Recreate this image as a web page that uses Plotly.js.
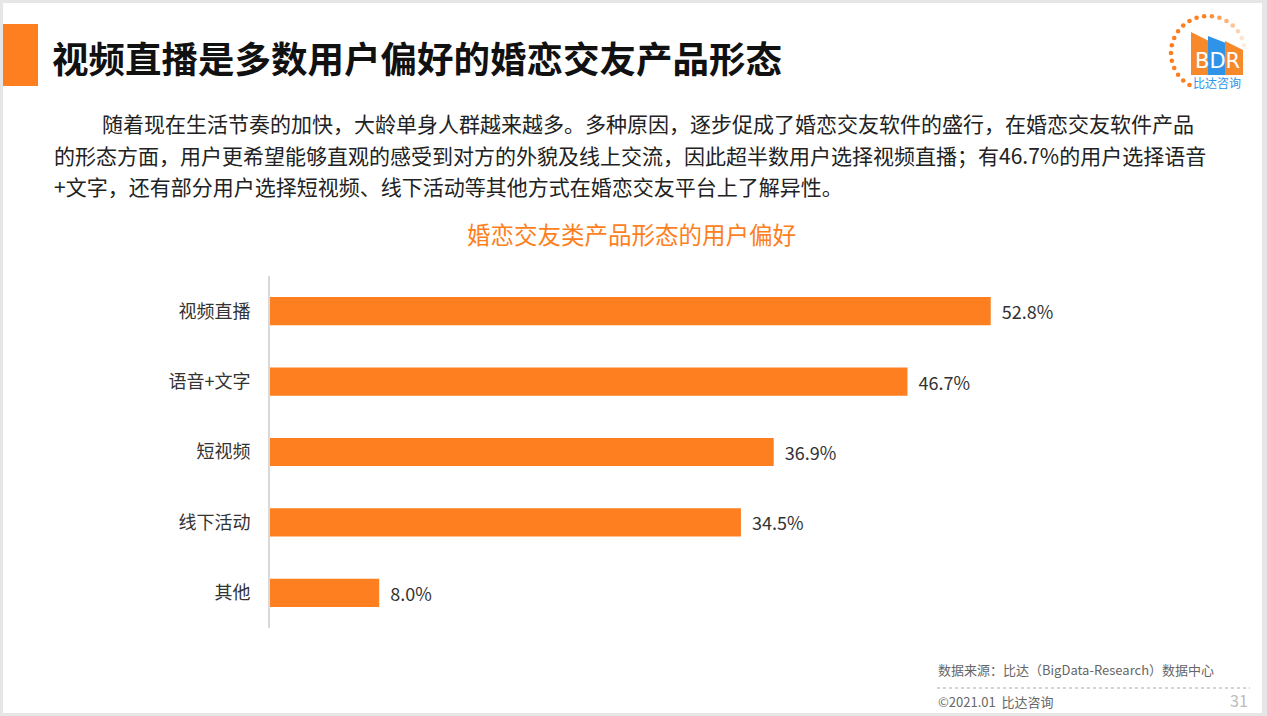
<!DOCTYPE html>
<html>
<head>
<meta charset="utf-8">
<script src="https://cdn.plot.ly/plotly-3.0.1.min.js"></script>
<style>
html,body{margin:0;padding:0;background:#fff;}
#chart{width:1267px;height:716px;}
</style>
</head>
<body>
<div id="chart"></div>
<script>
// ---- data ----
const categories = ['视频直播', '语音+文字', '短视频', '线下活动', '其他'];
const values = [52.8, 46.7, 36.9, 34.5, 8.0];

const headline = '视频直播是多数用户偏好的婚恋交友产品形态';
const paragraph = [
  '随着现在生活节奏的加快，大龄单身人群越来越多。多种原因，逐步促成了婚恋交友软件的盛行，在婚恋交友软件产品',
  '的形态方面，用户更希望能够直观的感受到对方的外貌及线上交流，因此超半数用户选择视频直播；有46.7%的用户选择语音',
  '+文字，还有部分用户选择短视频、线下活动等其他方式在婚恋交友平台上了解异性。'
];
const chartTitle = '婚恋交友类产品形态的用户偏好';
const sourceText = '数据来源：比达（BigData-Research）数据中心';
const copyText = '©2021.01  比达咨询';
const pageNo = '31';

// ---- layout geometry ----
const W = 1267, H = 716;
const M = {l: 270, r: 178, t: 276, b: 88};
const PW = W - M.l - M.r, PH = H - M.t - M.b;
const px = x => (x - M.l) / PW;
const py = y => (H - M.b - y) / PH;
const FONT = '"Noto Sans CJK SC", "Noto Sans", sans-serif';
const ORANGE = '#fd7f20';

const annotations = [];
const shapes = [];

// slide frame
shapes.push({type:'rect', xref:'paper', yref:'paper', x0:px(0), x1:px(W), y0:py(0), y1:py(H), line:{width:0}, fillcolor:'#e6e6e6', layer:'below'});
shapes.push({type:'rect', xref:'paper', yref:'paper', x0:px(3), x1:px(1262), y0:py(3), y1:py(713), line:{width:0}, fillcolor:'#ffffff', layer:'below'});

// orange title block
shapes.push({type:'rect', xref:'paper', yref:'paper', x0:px(3), x1:px(38), y0:py(24), y1:py(86), line:{width:0}, fillcolor:ORANGE});

annotations.push({xref:'paper', yref:'paper', x:px(50), y:py(58), xanchor:'left', yanchor:'middle', showarrow:false,
  text:'<b>' + headline + '</b>', font:{family:FONT, size:36.5, color:'#111'}});

const lineX = [100, 52, 52];
const lineY = [123, 155, 186];
paragraph.forEach((t, i) => annotations.push({xref:'paper', yref:'paper', x:px(lineX[i]), y:py(lineY[i]),
  xanchor:'left', yanchor:'middle', showarrow:false, text:t, font:{family:FONT, size:21, color:'#222'}}));

// footer
annotations.push({xref:'paper', yref:'paper', x:px(936), y:py(669), xanchor:'left', yanchor:'middle', showarrow:false,
  text:sourceText, font:{family:FONT, size:13, color:'#666'}});
annotations.push({xref:'paper', yref:'paper', x:px(936), y:py(701), xanchor:'left', yanchor:'middle', showarrow:false,
  text:copyText, font:{family:FONT, size:13, color:'#666'}});
annotations.push({xref:'paper', yref:'paper', x:px(1250), y:py(700), xanchor:'right', yanchor:'middle', showarrow:false,
  text:pageNo, font:{family:FONT, size:16, color:'#bbb'}});
shapes.push({type:'line', xref:'paper', yref:'paper', x0:px(937), x1:px(1250), y0:py(688), y1:py(688),
  line:{color:'#aaa', width:1, dash:'dot'}});

// logo: dotted arc
const cx = 1208, cy = 53, R = 37;
for (let k = 0; k < 20; k++) {
  const a = (240 - k * 12) * Math.PI / 180;
  const x = cx + R * Math.cos(a), y = cy - R * Math.sin(a);
  const fade = k < 13 ? 1 : Math.max(0.15, 1 - (k - 12) * 0.13);
  shapes.push({type:'circle', xref:'paper', yref:'paper', x0:px(x - 2.3), x1:px(x + 2.3), y0:py(y - 2.3), y1:py(y + 2.3),
    line:{width:0}, fillcolor:ORANGE, opacity:fade});
}
function poly(pts, color) {
  let d = 'M ' + pts.map(p => px(p[0]) + ',' + py(p[1])).join(' L ') + ' Z';
  shapes.push({type:'path', xref:'paper', yref:'paper', path:d, line:{width:0}, fillcolor:color});
}
poly([[1191,32],[1209,41],[1209,75],[1191,75]], '#f7892b');
poly([[1208,36],[1226,43],[1226,75],[1208,75]], '#2f93e8');
poly([[1225,41],[1243,50],[1243,75],[1225,75]], '#f7892b');
annotations.push({xref:'paper', yref:'paper', x:px(1217), y:py(61), xanchor:'center', yanchor:'middle', showarrow:false,
  text:'BDR', font:{family:'"DejaVu Sans", sans-serif', size:21, color:'#fff'}});
annotations.push({xref:'paper', yref:'paper', x:px(1217), y:py(82), xanchor:'center', yanchor:'middle', showarrow:false,
  text:'比达咨询', font:{family:FONT, size:12, color:'#2f93e8'}});

const trace = {
  type:'bar', orientation:'h',
  x: values, y: categories,
  marker:{color:ORANGE},
  width:0.4,
  text: values.map(v => '\u00a0\u00a0' + v.toFixed(1) + '%'),
  textposition:'outside', cliponaxis:false,
  textfont:{family:FONT, size:18, color:'#333'},
  hoverinfo:'none'
};

const layout = {
  width:W, height:H,
  margin:M,
  paper_bgcolor:'#fff', plot_bgcolor:'rgba(0,0,0,0)',
  showlegend:false,
  title:{text:chartTitle, x:(466+797)/2/W, xref:'container', xanchor:'center', y:1 - 236/H, yref:'container', yanchor:'middle',
    font:{family:FONT, size:23.5, color:ORANGE}},
  xaxis:{range:[0, 60], showgrid:false, zeroline:false, showticklabels:false, showline:false, fixedrange:true},
  yaxis:{categoryorder:'array', categoryarray:categories.slice().reverse(), showgrid:false, zeroline:false,
    showline:true, linecolor:'#d9d9d9', linewidth:2, ticks:'', ticklabelstandoff:14,
    tickfont:{family:FONT, size:18, color:'#333'}, fixedrange:true},
  shapes:shapes, annotations:annotations
};

Plotly.newPlot('chart', [trace], layout, {displayModeBar:false, staticPlot:true});
</script>
</body>
</html>
